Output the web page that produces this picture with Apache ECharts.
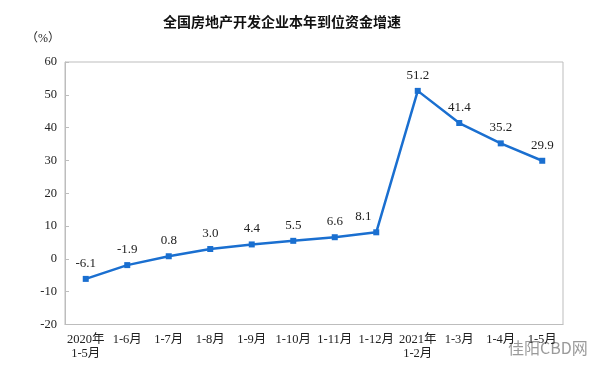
<!DOCTYPE html>
<html><head><meta charset="utf-8">
<script src="https://cdn.jsdelivr.net/npm/echarts@6/dist/echarts.min.js"></script>
<style>html,body{margin:0;padding:0;background:#fff}#c{width:595px;height:374px}</style>
</head><body><div id="c"></div>
<script>
const categories = ['2020年\n1-5月','1-6月','1-7月','1-8月','1-9月','1-10月','1-11月','1-12月','2021年\n1-2月','1-3月','1-4月','1-5月'];
const growth = [-6.1, -1.9, 0.8, 3.0, 4.4, 5.5, 6.6, 8.1, 51.2, 41.4, 35.2, 29.9];
const titleText = '全国房地产开发企业本年到位资金增速';
const unitText = '（%）';
const watermarkText = '佳阳CBD网';

const serif = '"Liberation Serif", "Noto Sans CJK SC", serif';
const seriesData = growth.map((v, i) => i === 7 ? {value: v, label: {offset: [-13, 0]}} : v);
const chart = echarts.init(document.getElementById('c'), null, {renderer: 'canvas'});
chart.setOption({
  animation: false,
  backgroundColor: '#fff',
  title: {
    text: titleText, left: 277, top: 10, textAlign: 'center',
    textStyle: {fontFamily: '"Noto Sans CJK SC", sans-serif', fontSize: 14, fontWeight: 'bold', color: '#111'}
  },
  grid: {left: 65, right: 32, top: 62, bottom: 49.5, show: true, borderColor: '#bdbdbd', borderWidth: 1},
  graphic: [
    {type: 'text', left: 26, top: 33, style: {text: unitText, font: '12px ' + serif, fill: '#222'}},
    {type: 'text', left: 508, top: 340, style: {text: watermarkText, font: '16px "Noto Sans CJK SC", sans-serif', fill: '#9a9a9a'}}
  ],
  xAxis: {
    type: 'category', data: categories, boundaryGap: true,
    axisLine: {onZero: false, lineStyle: {color: '#bdbdbd'}},
    axisTick: {inside: true, length: 4, lineStyle: {color: '#bdbdbd'}},
    axisLabel: {interval: 0, margin: 8, fontFamily: serif, fontSize: 12.5, color: '#222', lineHeight: 14}
  },
  yAxis: {
    type: 'value', min: -20, max: 60, interval: 10,
    splitLine: {show: false},
    axisLine: {show: true, lineStyle: {color: '#bdbdbd'}},
    axisTick: {show: true, inside: true, length: 4, lineStyle: {color: '#bdbdbd'}},
    axisLabel: {margin: 8, fontFamily: serif, fontSize: 12.5, color: '#222'}
  },
  series: [{
    type: 'line', data: seriesData,
    symbol: 'rect', symbolSize: 6,
    lineStyle: {color: '#1a6fd0', width: 2.5},
    itemStyle: {color: '#1a6fd0'},
    label: {show: true, position: 'top', distance: 6, fontFamily: serif, fontSize: 13, color: '#222',
      formatter: p => p.value.toFixed(1)}
  }]
});
</script></body></html>
